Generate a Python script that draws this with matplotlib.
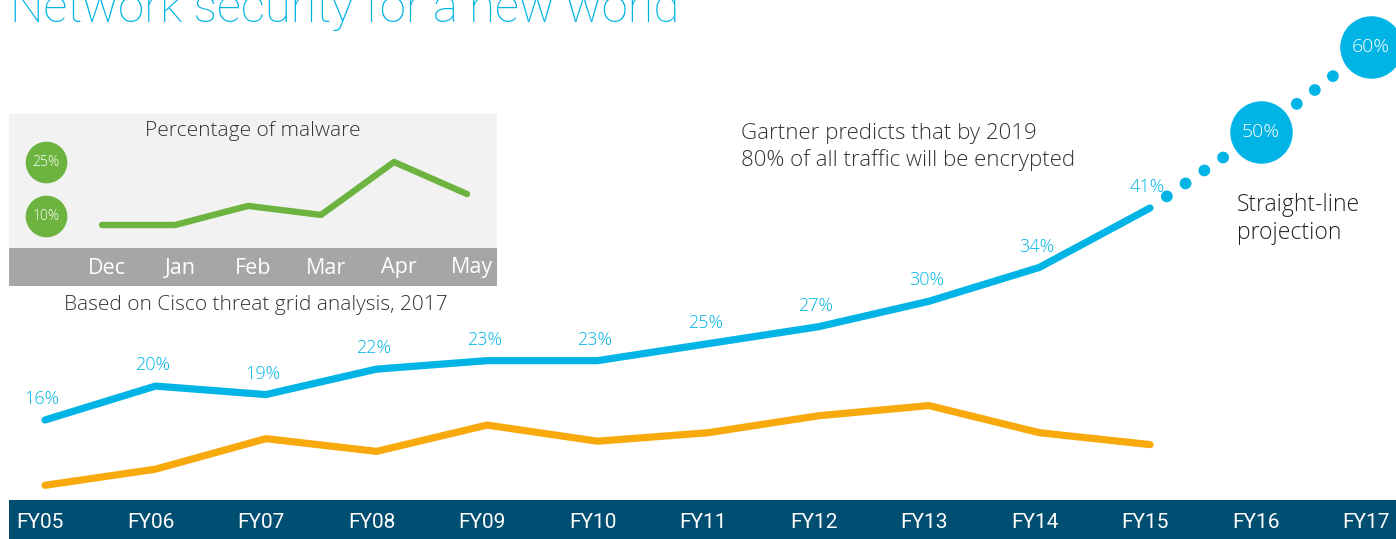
import matplotlib
matplotlib.use("Agg")
import matplotlib.pyplot as plt
from matplotlib.patches import Rectangle
import matplotlib.transforms as mtransforms

plt.rcParams['font.family'] = ['Open Sans', 'DejaVu Sans']

# data
years = ['FY05', 'FY06', 'FY07', 'FY08', 'FY09', 'FY10', 'FY11', 'FY12',
         'FY13', 'FY14', 'FY15', 'FY16', 'FY17']
encrypted = [16, 20, 19, 22, 23, 23, 25, 27, 30, 34, 41]
other = [8.3, 10.2, 13.8, 12.3, 15.4, 13.5, 14.5, 16.5, 17.7, 14.5, 13.1]
proj_years = [10, 11, 12]
projection = [41, 50, 60]

months = ['Dec', 'Jan', 'Feb', 'Mar', 'Apr', 'May']
malware = [7.5, 7.5, 12.8, 10.3, 25, 16.1]
malware_marks = [25, 10]

BLUE = '#00b5e6'
ORANGE = '#f8aa0c'
NAVY = '#004e72'
GREEN = '#6cb43f'
DARK = '#333333'

W, H = 1396, 539
fig = plt.figure(figsize=(W / 100, H / 100), dpi=100)

# main axes covers the whole figure
ax = fig.add_axes([0, 0, 1, 1])
x0, dx = 45, 110.5
y0, dy = 420, 8.48
ax.set_xlim(-x0 / dx, (W - x0) / dx)
ax.set_ylim(16 - (H - y0) / dy, 16 + y0 / dy)
ax.axis('off')

xs = list(range(len(encrypted)))
ax.plot(xs, encrypted, color=BLUE, lw=5.2, solid_capstyle='round', solid_joinstyle='round', zorder=3)
ax.plot(xs, other, color=ORANGE, lw=5.2, solid_capstyle='round', solid_joinstyle='round', zorder=3)
ax.plot(proj_years, projection, color=BLUE, lw=8.5, linestyle=(0.2, (0.01, 1.92)),
        dash_capstyle='round', zorder=3)
ax.plot(proj_years[1:], projection[1:], 'o', color=BLUE, ms=45, mec='none', zorder=4)
for xv, v in zip(proj_years[1:], projection[1:]):
    ax.text(xv, v, f'{v}%', color='white', fontsize=14, fontweight='light',
            ha='center', va='center', zorder=5)

for xv, v in zip(xs, encrypted):
    ax.annotate(f'{v}%', (xv, v), xytext=(-2, 8.5), textcoords='offset points',
                color=BLUE, fontsize=13, fontweight='light', ha='center', va='bottom')

# bottom band with year labels
ax.add_patch(Rectangle((9 / W, 0), 1 - 9 / W, 39 / H, transform=ax.transAxes,
                       color=NAVY, zorder=1, lw=0))
shift = mtransforms.offset_copy(ax.transData, fig=fig, x=-5, y=0, units='dots')
band_y = 16 - (H - y0) / dy + (539 - 522) / dy
for i, lab in enumerate(years):
    ax.text(i, band_y, lab, transform=shift, color='white', fontsize=15,
            family=['Roboto', 'DejaVu Sans'], ha='center', va='center', zorder=2)

# title and notes
fig.text(10 / W, 1 - 22 / H, 'Network security for a new world', color=BLUE,
         fontsize=34, fontweight='light', family=['Roboto', 'DejaVu Sans'],
         ha='left', va='baseline')
fig.text(741 / W, 1 - 147 / H, 'Gartner predicts that by 2019\n80% of all traffic will be encrypted',
         color=DARK, fontsize=16, fontweight='light', ha='left', va='center', linespacing=1.3)
fig.text(1237 / W, 1 - 219 / H, 'Straight-line\nprojection', color='#222222',
         fontsize=16.5, fontweight='light', ha='left', va='center', linespacing=1.2)
fig.text(256 / W, 1 - 305 / H, 'Based on Cisco threat grid analysis, 2017',
         color=DARK, fontsize=15, fontweight='light', ha='center', va='center')

# inset: percentage of malware
ins = fig.add_axes([9 / W, 1 - 286 / H, 488 / W, 172 / H])
ins.set_facecolor('#f2f2f2')
ix0, idx = 102 - 9, 73.0
iy0, idy = 162 - 114, 3.6
ins.set_xlim(-ix0 / idx, (488 - ix0) / idx)
ins.set_ylim(25 - (172 - iy0) / idy, 25 + iy0 / idy)
for s in ins.spines.values():
    s.set_visible(False)
ins.set_xticks([])
ins.set_yticks([])
ins.add_patch(Rectangle((0, 0), 1, 38 / 172, transform=ins.transAxes,
                        color='#a6a6a8', lw=0, zorder=1))
ins.plot(range(len(malware)), malware, color=GREEN, lw=4.6,
         solid_capstyle='round', solid_joinstyle='round', zorder=3)
cx = (46 - 9 - ix0) / idx
ins.plot([cx] * len(malware_marks), malware_marks, 'o', color=GREEN, ms=30, mec='none', zorder=3)
for v in malware_marks:
    ins.text(cx, v, f'{v}%', color='white', fontsize=10, fontweight='light',
             ha='center', va='center', zorder=4)
ins.text(0.5, 1 - 17 / 172, 'Percentage of malware', transform=ins.transAxes,
         color=DARK, fontsize=15, fontweight='light', ha='center', va='center')
mshift = mtransforms.offset_copy(ins.transData, fig=fig, x=5, y=0, units='dots')
for i, lab in enumerate(months):
    ins.text(i, 25 - (268 - 162) / idy, lab, transform=mshift, color='white',
             fontsize=15.5, ha='center', va='center', zorder=2)

fig.savefig('out.png', dpi=100)
